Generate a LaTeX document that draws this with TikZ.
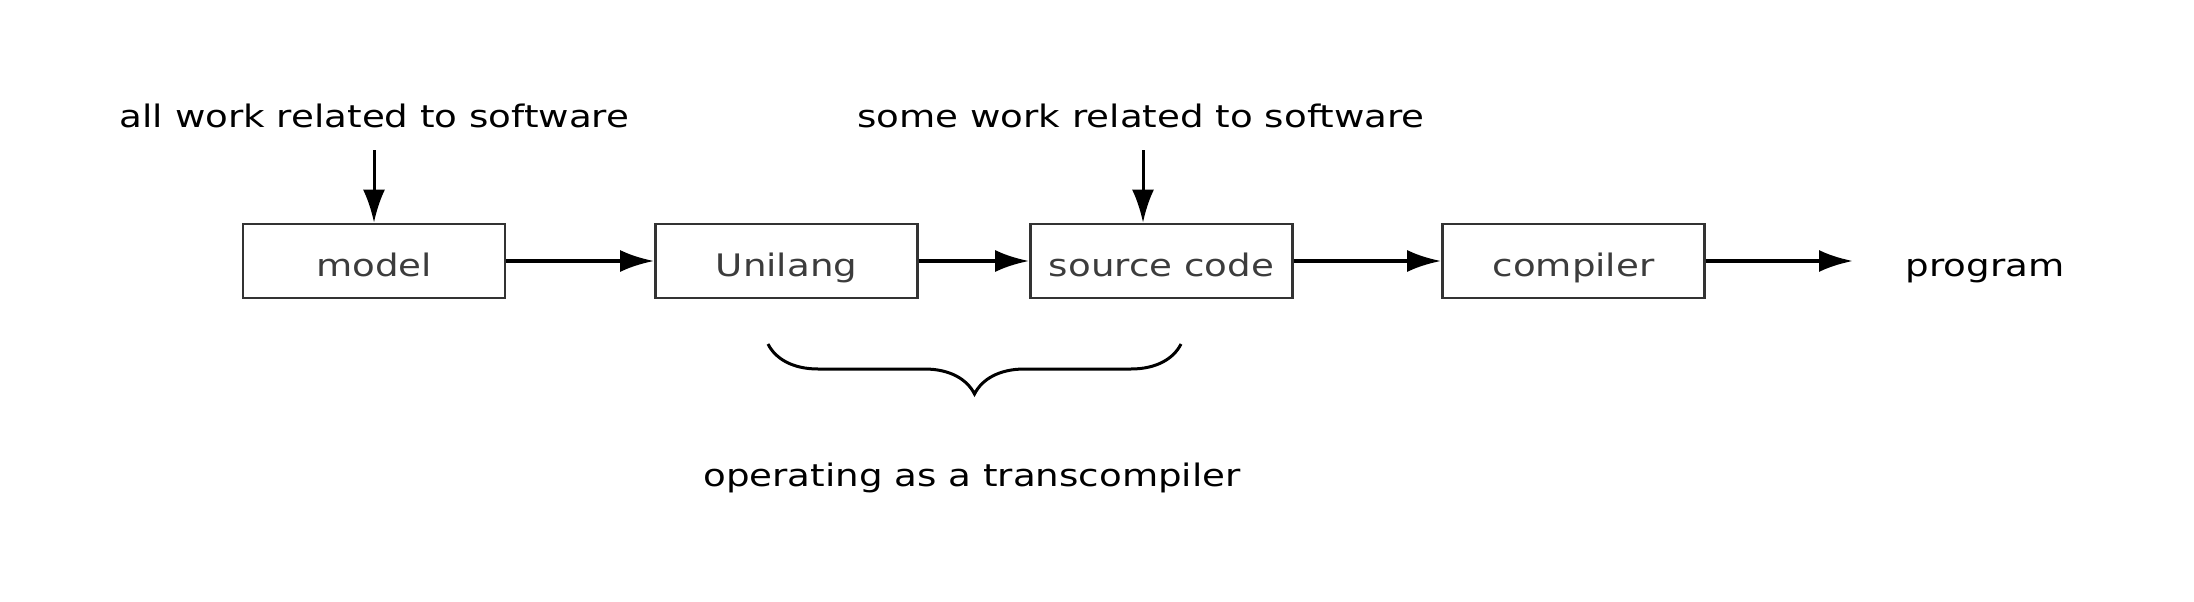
\documentclass[tikz,border=0pt]{standalone}
\usepackage{fontspec}
\setmainfont{DejaVu Sans}[FakeStretch=1.2]
\usetikzlibrary{arrows.meta,decorations.pathreplacing}
\definecolor{boxline}{HTML}{333333}
\definecolor{boxtext}{HTML}{3C3C3C}
\begin{document}
\begin{tikzpicture}[x=1pt,y=-1pt,
  lbl/.style={font=\fontsize{31}{36}\selectfont, text=black, inner sep=0pt, anchor=base},
  stagebox/.style={draw=boxline, line width=2.7pt, minimum width=262pt, minimum height=74pt,
    inner sep=0pt, font=\fontsize{31}{36}\selectfont, text=boxtext, text height=30pt, text depth=0pt},
  harr/.style={line width=4pt, -{Latex[length=34pt,width=22pt]}},
  varr/.style={line width=3pt, -{Latex[length=33pt,width=22pt]}},
  bracestyle/.style={line width=3pt, decorate, decoration={brace, amplitude=50pt}}]
\useasboundingbox (0,0) rectangle (2194,602);
\node[lbl] (all) at (374.5,127) {all work related to software};
\node[lbl] (some) at (1141,127) {some work related to software};
\node[stagebox] (model) at (374,261) {model};
\node[stagebox] (uni) at (786.5,261) {Unilang};
\node[stagebox] (src) at (1161.5,261) {source code};
\node[stagebox] (comp) at (1573.5,261) {compiler};
\node[lbl] (prog) at (1985,276) {program};
\node[lbl] (oper) at (972,486) {operating as a transcompiler};
\coordinate (allstart) at (374,150);
\coordinate (somestart) at (1143,150);
\coordinate (progin) at (1853,261);
\coordinate (braceR) at (1181,344);
\coordinate (braceL) at (768,344);
\draw[varr] (allstart) -- (allstart |- model.north);
\draw[varr] (somestart) -- (somestart |- src.north);
\draw[harr] (model) -- (uni);
\draw[harr] (uni) -- (src);
\draw[harr] (src) -- (comp);
\draw[harr] (comp) -- (progin);
\draw[bracestyle] (braceR) -- (braceL);
\end{tikzpicture}
\end{document}
